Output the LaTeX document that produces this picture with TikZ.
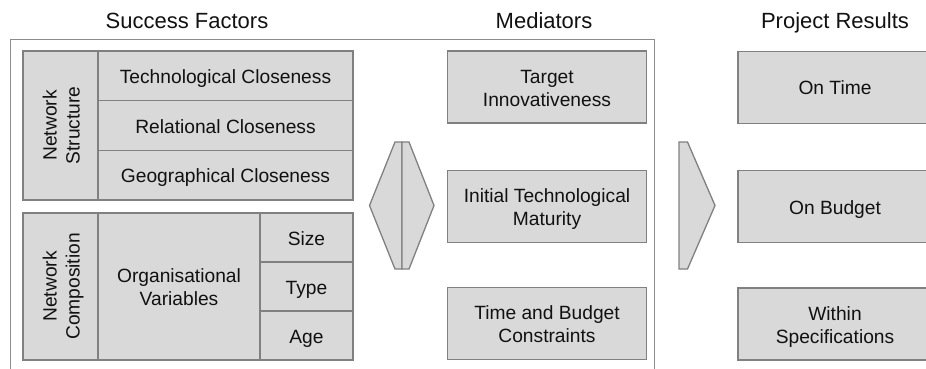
\documentclass[tikz,border=0pt]{standalone}
\usepackage{fontspec}
\setmainfont{Liberation Sans}
\definecolor{cellfill}{HTML}{D9D9D9}
\definecolor{cellline}{HTML}{808080}
\definecolor{framecol}{HTML}{8C8C8C}
\definecolor{txtcol}{HTML}{111111}
\tikzset{
	cell/.style={draw=cellline, fill=cellfill, line width=1.3pt, inner sep=0pt, align=center, text=txtcol, text height=15pt, text depth=0pt, font=\fontsize{19.2}{23}\selectfont},
	twoline/.style={text height=38pt},
	heading/.style={anchor=base, text=txtcol, font=\fontsize{22}{26}\selectfont},
	shapeline/.style={draw=cellline, fill=cellfill, line width=1.3pt, line join=miter}
}
\begin{document}
\begin{tikzpicture}[x=1pt,y=-1pt]
			\useasboundingbox (0,0) rectangle (926,369);
			
			\node[heading] (hsf) at (187,29) {Success Factors};
			\node[heading] (hmed) at (544,29) {Mediators};
			\node[heading] (hres) at (835,29) {Project Results};
			
			\draw[framecol, line width=1pt] (10,380) -- (10,39.5) -- (654.5,39.5) -- (654.5,380);
			
			% success factors
			\node[cell, twoline, rotate=90, minimum width=149, minimum height=75] (ns) at (60.5,125.5) {Network\\Structure};
			\node[cell, minimum width=255, minimum height=49.7] (tc) at (225.5,75.8) {Technological Closeness};
			\node[cell, minimum width=255, minimum height=49.7] (rc) at (225.5,125.5) {Relational Closeness};
			\node[cell, minimum width=255, minimum height=49.7] (gc) at (225.5,175.2) {Geographical Closeness};
			
			\node[cell, twoline, rotate=90, minimum width=147, minimum height=75] (nc) at (60.5,286.5) {Network\\Composition};
			\node[cell, twoline, minimum width=162, minimum height=147] (ov) at (179,286.5) {Organisational\\Variables};
			\foreach \lbl/\ypos [count=\i] in {Size/237.5, Type/286.5, Age/335.5}{
				\node[cell, minimum width=93, minimum height=49] (var\i) at (306.5,\ypos) {\lbl};
			}
			
			% mediators
			\node[cell, twoline, minimum width=199, minimum height=72] (ti) at (547,87) {Target\\Innovativeness};
			\node[cell, twoline, minimum width=199, minimum height=72] (itm) at (547,206.5) {Initial Technological\\Maturity};
			\node[cell, twoline, minimum width=199, minimum height=72] (tbc) at (547,323.5) {Time and Budget\\Constraints};
			
			% project results
			\node[cell, minimum width=194, minimum height=72] (ot) at (835,87.5) {On Time};
			\node[cell, minimum width=194, minimum height=72] (ob) at (835,206.5) {On Budget};
			\node[cell, twoline, minimum width=194, minimum height=72] (ws) at (835,324) {Within\\Specifications};
			
			% arrows
			\draw[shapeline] (402,142) -- (395,142) -- (369.5,205.5) -- (395,269) -- (402,269) -- cycle;
			\draw[shapeline] (402,142) -- (409,142) -- (434,205.5) -- (409,269) -- (402,269) -- cycle;
			\draw[shapeline] (679,142) -- (687.5,142) -- (715,205.5) -- (687.5,269) -- (679,269) -- cycle;
		\end{tikzpicture}
\end{document}
